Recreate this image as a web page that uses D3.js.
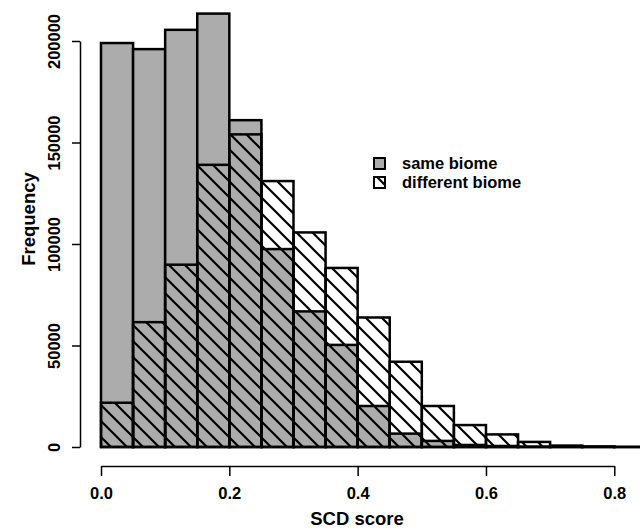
<!DOCTYPE html>
<html>
<head>
<meta charset="utf-8">
<script src="https://cdn.jsdelivr.net/npm/d3@7"></script>
<style>
  body { margin: 0; background: #fff; }
  text { font-family: "Liberation Sans", Arial, sans-serif; font-weight: bold; }
</style>
</head>
<body>
<div id="container"></div>
<script>
// histogram bins (left edges), width 0.05
var binStarts = [0, 0.05, 0.1, 0.15, 0.2, 0.25, 0.3, 0.35, 0.4, 0.45, 0.5, 0.55, 0.6, 0.65, 0.7, 0.75, 0.8];
var binWidth = 0.05;
var sameBiome = [199000, 196000, 205500, 213500, 161000, 97500, 66800, 50300, 20200, 6600, 3000, 1000, 500, 200, 100, 50, 20];
var diffBiome = [21800, 61500, 89800, 139000, 154000, 131000, 105700, 88200, 63800, 42000, 20200, 10800, 6200, 2500, 700, 300, 30];
var xTicks = [0, 0.2, 0.4, 0.6, 0.8];
var yTicks = [0, 50000, 100000, 150000, 200000];
var seriesNames = ["same biome", "different biome"];

var svgWidth = 640, svgHeight = 531;

var svg = d3.select("div#container")
    .append("svg")
    .attr("width", svgWidth)
    .attr("height", svgHeight);

// hatch pattern for "different biome"
var defs = svg.append("defs");
var pat = defs.append("pattern")
    .attr("id", "hatch")
    .attr("patternUnits", "userSpaceOnUse")
    .attr("width", 16)
    .attr("height", 16);
pat.append("path")
    .attr("d", "M-4,-4 L20,20 M-4,12 L4,20 M12,-4 L20,4")
    .attr("stroke", "#000")
    .attr("stroke-width", 2.2);

var x = d3.scaleLinear().domain([0, 0.8]).range([101, 614.3]);
var y = d3.scaleLinear().domain([0, 200000]).range([447, 41]);

var grey = "#acacac";

// same biome bars (grey)
svg.selectAll("rect.same")
    .data(sameBiome)
    .enter()
    .append("rect")
    .attr("class", "same")
    .attr("x", function (d, i) { return x(binStarts[i]); })
    .attr("y", function (d) { return y(d); })
    .attr("width", function (d, i) { return x(binStarts[i] + binWidth) - x(binStarts[i]); })
    .attr("height", function (d) { return y(0) - y(d); })
    .attr("fill", grey)
    .attr("stroke", "#000")
    .attr("stroke-width", 2.5);

// different biome bars (hatched, overlaid)
svg.selectAll("rect.diff")
    .data(diffBiome)
    .enter()
    .append("rect")
    .attr("class", "diff")
    .attr("x", function (d, i) { return x(binStarts[i]); })
    .attr("y", function (d) { return y(d); })
    .attr("width", function (d, i) { return x(binStarts[i] + binWidth) - x(binStarts[i]); })
    .attr("height", function (d) { return y(0) - y(d); })
    .attr("fill", "url(#hatch)")
    .attr("stroke", "#000")
    .attr("stroke-width", 2.5);

// Y axis
var yAxis = svg.append("g")
    .attr("transform", "translate(80,0)")
    .call(d3.axisLeft(y).tickValues(yTicks).tickSize(8).tickSizeOuter(0).tickFormat(d3.format("d")));
yAxis.select(".domain").attr("stroke-width", 1.5);
yAxis.selectAll(".tick line").attr("stroke-width", 1.5);
yAxis.selectAll(".tick text")
    .attr("x", 0).attr("dy", 0)
    .attr("transform", "translate(-20,0) rotate(-90)")
    .attr("text-anchor", "middle")
    .attr("font-size", 16.5)
    .attr("fill", "#000");

// X axis
var xAxis = svg.append("g")
    .attr("transform", "translate(0,466)")
    .call(d3.axisBottom(x).tickValues(xTicks).tickSize(10).tickSizeOuter(0).tickFormat(d3.format(".1f")));
xAxis.select(".domain").attr("stroke-width", 1.5);
xAxis.selectAll(".tick line").attr("stroke-width", 1.5);
xAxis.selectAll(".tick text")
    .attr("y", 33).attr("dy", 0)
    .attr("font-size", 16.5)
    .attr("fill", "#000");

// axis titles
svg.append("text")
    .attr("x", 357).attr("y", 525)
    .attr("text-anchor", "middle")
    .attr("font-size", 18.5)
    .text("SCD score");

svg.append("text")
    .attr("transform", "translate(35,219) rotate(-90)")
    .attr("text-anchor", "middle")
    .attr("font-size", 18.5)
    .text("Frequency");

// legend
var legend = svg.append("g").attr("transform", "translate(374,158)");
legend.selectAll("rect")
    .data(seriesNames)
    .enter()
    .append("rect")
    .attr("x", 0)
    .attr("y", function (d, i) { return i * 19; })
    .attr("width", 11)
    .attr("height", 11)
    .attr("fill", function (d, i) { return i == 0 ? grey : "url(#hatch)"; })
    .attr("stroke", "#000")
    .attr("stroke-width", 2);
legend.selectAll("text")
    .data(seriesNames)
    .enter()
    .append("text")
    .attr("x", 28)
    .attr("y", function (d, i) { return i * 19 + 11; })
    .attr("font-size", 16.5)
    .text(function (d) { return d; });
</script>
</body>
</html>
